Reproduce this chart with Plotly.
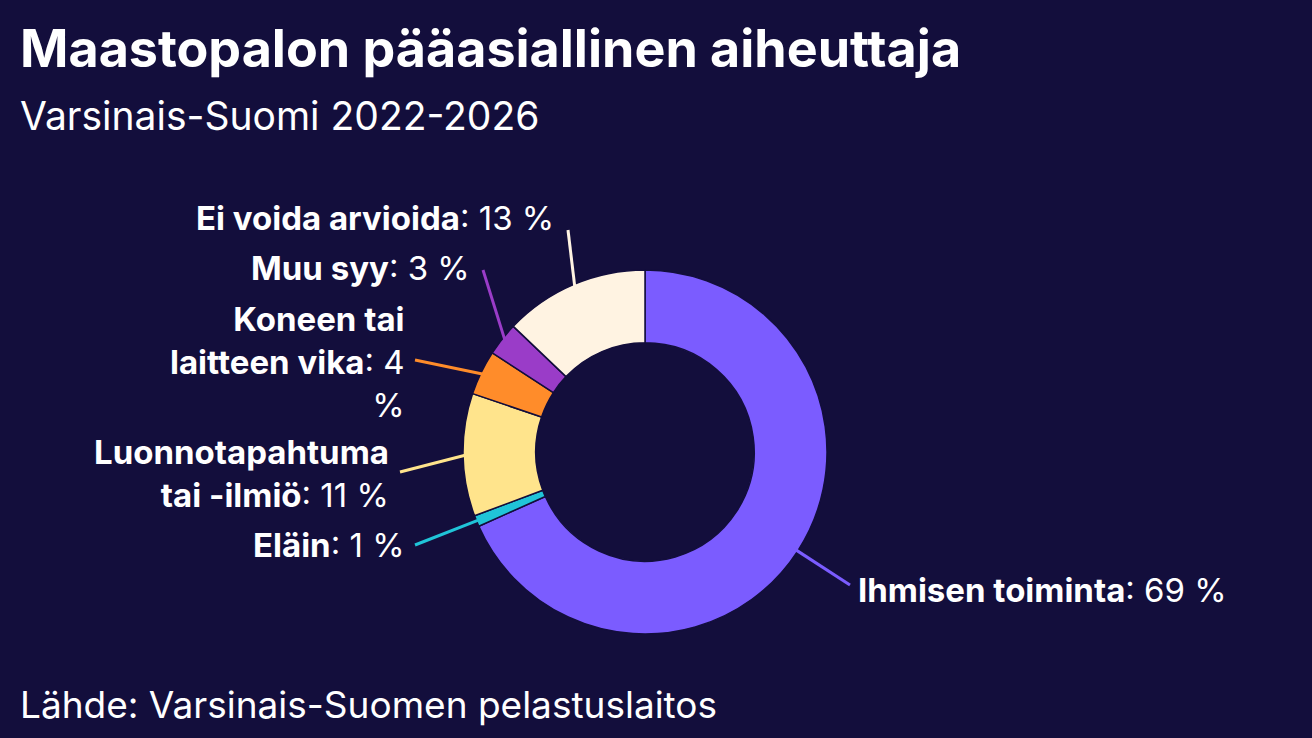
import math
import plotly.graph_objects as go

labels = ["Ihmisen toiminta", "Eläin", "Luonnotapahtuma<br>tai -ilmiö", "Koneen tai<br>laitteen vika",
          "Muu syy", "Ei voida arvioida"]
values = [69, 1, 11, 4, 3, 13]
colors = ["#7b5cff", "#20c4d8", "#ffe48c", "#ff8c2a", "#9a3cc8", "#fff3e2"]
label_text = [
    "<b>Ihmisen toiminta</b>: 69 %",
    "<b>Eläin</b>: 1 %",
    "<b>Luonnotapahtuma</b><br><b>tai -ilmiö</b>: 11 %",
    "<b>Koneen tai</b><br><b>laitteen vika</b>: 4<br>%",
    "<b>Muu syy</b>: 3 %",
    "<b>Ei voida arvioida</b>: 13 %",
]
# label anchor points (pixels, top-down) and text sides
label_pos = [(856, 590), (407, 545), (391, 473), (407, 362), (472, 268), (556, 218)]
line_end = [(850, 585), (415, 545), (400, 472), (415, 360), (483, 270), (568, 230)]
sides = ["left", "right", "right", "right", "right", "right"]

W, H = 1312, 738
BG = "#130e3c"
cx, cy, R = 645, 452, 182

fig = go.Figure(go.Pie(
    labels=labels, values=values, hole=0.6, sort=False, direction="clockwise", rotation=0,
    marker=dict(colors=colors, line=dict(color=BG, width=1.5)),
    textinfo="none", hoverinfo="label+percent", showlegend=False,
    domain=dict(x=[(cx - R) / W, (cx + R) / W], y=[1 - (cy + R) / H, 1 - (cy - R) / H]),
))

total = sum(values)
cum = 0
shapes, annos = [], []
for i, v in enumerate(values):
    mid = (cum + v / 2) / total * 2 * math.pi
    cum += v
    px = cx + (R - 4) * math.sin(mid)
    py = cy - (R - 4) * math.cos(mid)
    ex, ey = line_end[i]
    shapes.append(dict(type="line", xref="paper", yref="paper",
                       x0=px / W, y0=1 - py / H, x1=ex / W, y1=1 - ey / H,
                       line=dict(color=colors[i], width=3)))
    lx, ly = label_pos[i]
    annos.append(dict(text=label_text[i], x=lx / W, y=1 - ly / H, xref="paper", yref="paper",
                      xanchor=sides[i], yanchor="middle", align=sides[i], showarrow=False,
                      font=dict(size=33, color="white", family="Inter")))

annos += [
    dict(text="<b>Maastopalon pääasiallinen aiheuttaja</b>", x=18 / W, y=1 - 48 / H, xref="paper",
         yref="paper", xanchor="left", yanchor="middle", showarrow=False,
         font=dict(size=52, color="white", family="Inter")),
    dict(text="Varsinais-Suomi 2022-2026", x=18 / W, y=1 - 115 / H, xref="paper", yref="paper",
         xanchor="left", yanchor="middle", showarrow=False,
         font=dict(size=39, color="white", family="Inter")),
    dict(text="Lähde: Varsinais-Suomen pelastuslaitos", x=18 / W, y=1 - 704 / H, xref="paper",
         yref="paper", xanchor="left", yanchor="middle", showarrow=False,
         font=dict(size=37, color="white", family="Inter")),
]

fig.update_layout(width=W, height=H, margin=dict(l=0, r=0, t=0, b=0),
                  paper_bgcolor=BG, plot_bgcolor=BG, shapes=shapes, annotations=annos)
fig.write_html("out.html", config={"displayModeBar": False},
               post_script="document.body.style.margin='0';"
               "document.body.style.background='%s';" % BG)
